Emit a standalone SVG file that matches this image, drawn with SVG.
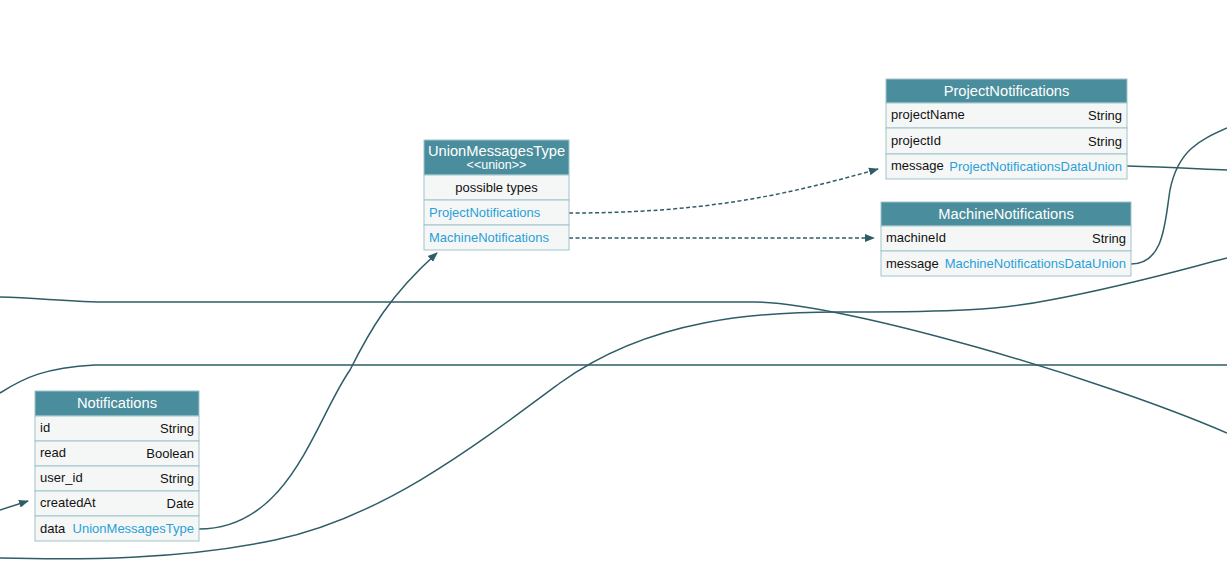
<svg xmlns="http://www.w3.org/2000/svg" width="1227" height="562" viewBox="0 0 1227 562">
<defs>
<marker id="arr" viewBox="0 0 10 10" refX="9" refY="5" markerWidth="10" markerHeight="10" markerUnits="userSpaceOnUse" orient="auto">
<path d="M0,1 L10,5 L0,9 Z" fill="#2f5d67"/>
</marker>
<style>
.edge{fill:none;stroke:#2f5d67;stroke-width:1.5}
.dash{stroke-dasharray:4 2.5}
.hdr{fill:#4a8d9c;stroke:#9fc4cc;stroke-width:1}
.row{fill:#f5f7f7;stroke:#9fc4cc;stroke-width:1}
.ht{font-family:"Liberation Sans",Arial,sans-serif;font-size:14.7px;fill:#ffffff;text-anchor:middle}
.st{font-family:"Liberation Sans",Arial,sans-serif;font-size:12.5px;fill:#ffffff;text-anchor:middle}
.t{font-family:"Liberation Sans",Arial,sans-serif;font-size:13px;fill:#111111}
.r{text-anchor:end}
.c{text-anchor:middle}
.l{fill:#2a9fd8}
</style>
</defs>
<rect width="1227" height="562" fill="#ffffff"/>
<g id="connectors">
<path class="edge" d="M0,297 C40,298 70,302 110,302 L755,302 C845,303 1100,378 1227,433"/>
<path class="edge" d="M0,393 C25,377 45,368 95,365 L1227,365"/>
<path class="edge" d="M0,558 C80,560 180,560 275,540 C380,518 470,450 560,383 C650,318 760,311 851,312 C950,312 1000,310 1050,300 C1130,285 1180,270 1227,258"/>
<path class="edge" d="M0,510 L28,501" marker-end="url(#arr)"/>
<path class="edge" d="M199,529 C290,529 315,420 350,370 C370,330 390,295 437,253" marker-end="url(#arr)"/>
<path class="edge dash" d="M569,213 C700,213 780,197 878,169" marker-end="url(#arr)"/>
<path class="edge dash" d="M569,238 L874,238" marker-end="url(#arr)"/>
<path class="edge" d="M1127,166 C1170,167 1200,169 1227,170"/>
<path class="edge" d="M1131,264 C1165,264 1165,220 1170,190 C1178,150 1200,140 1227,128"/>
</g>
<g id="node-Notifications">
<rect class="hdr" x="35" y="391" width="164" height="25"/>
<text class="ht" x="117" y="408">Notifications</text>
<rect class="row" x="35" y="416" width="164" height="25"/>
<text class="t" x="40" y="432">id</text><text class="t r" x="194" y="433">String</text>
<rect class="row" x="35" y="441" width="164" height="25"/>
<text class="t" x="40" y="457">read</text><text class="t r" x="194" y="458">Boolean</text>
<rect class="row" x="35" y="466" width="164" height="25"/>
<text class="t" x="40" y="482">user_id</text><text class="t r" x="194" y="483">String</text>
<rect class="row" x="35" y="491" width="164" height="25"/>
<text class="t" x="40" y="507">createdAt</text><text class="t r" x="194" y="508">Date</text>
<rect class="row" x="35" y="516" width="164" height="25"/>
<text class="t" x="40" y="533">data</text><text class="t r l" x="194" y="533">UnionMessagesType</text>
</g>
<g id="node-UnionMessagesType">
<rect class="hdr" x="424" y="140" width="145" height="35"/>
<text class="ht" x="496.5" y="156">UnionMessagesType</text>
<text class="st" x="496.5" y="169">&lt;&lt;union&gt;&gt;</text>
<rect class="row" x="424" y="175" width="145" height="25"/>
<text class="t c" x="496.5" y="192">possible types</text>
<rect class="row" x="424" y="200" width="145" height="25"/>
<text class="t l" x="429" y="217">ProjectNotifications</text>
<rect class="row" x="424" y="225" width="145" height="25"/>
<text class="t l" x="429" y="242">MachineNotifications</text>
</g>
<g id="node-ProjectNotifications">
<rect class="hdr" x="886" y="79" width="241" height="24"/>
<text class="ht" x="1006.5" y="96">ProjectNotifications</text>
<rect class="row" x="886" y="103" width="241" height="25"/>
<text class="t" x="891" y="119">projectName</text><text class="t r" x="1122" y="120">String</text>
<rect class="row" x="886" y="128" width="241" height="26"/>
<text class="t" x="891" y="145">projectId</text><text class="t r" x="1122" y="146">String</text>
<rect class="row" x="886" y="154" width="241" height="25"/>
<text class="t" x="891" y="170">message</text><text class="t r l" x="1122" y="171">ProjectNotificationsDataUnion</text>
</g>
<g id="node-MachineNotifications">
<rect class="hdr" x="881" y="202" width="250" height="24"/>
<text class="ht" x="1006" y="219">MachineNotifications</text>
<rect class="row" x="881" y="226" width="250" height="25"/>
<text class="t" x="886" y="242">machineId</text><text class="t r" x="1126" y="243">String</text>
<rect class="row" x="881" y="251" width="250" height="25"/>
<text class="t" x="886" y="268">message</text><text class="t r l" x="1126" y="268">MachineNotificationsDataUnion</text>
</g>
</svg>
